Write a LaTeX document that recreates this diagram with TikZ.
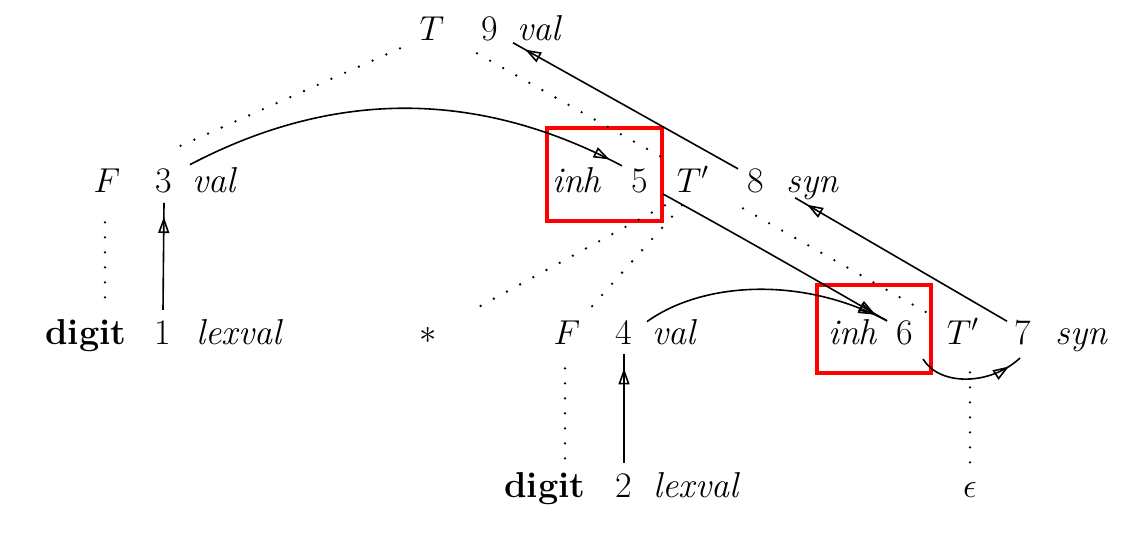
\documentclass[tikz,border=0pt]{standalone}
\usetikzlibrary{arrows.meta,calc,decorations.markings}
\begin{document}
\begin{tikzpicture}[x=0.5pt,y=-0.5pt,
  lab/.style={inner sep=5pt, anchor=base, font=\fontsize{18}{22}\selectfont},
  conn/.style={line width=0.8pt, postaction={decorate},
    decoration={markings, mark=at position -7pt with {\arrow{Triangle[open,length=8pt,width=5.5pt,line width=0.8pt]}}}},
  dotsd/.style={line width=1.3pt, line cap=round, dash pattern=on 0pt off 7.5pt},
  dotsv/.style={line width=1.3pt, line cap=round, dash pattern=on 0pt off 7.5pt},
  hl/.style={draw=red, line width=1.6pt}]
\useasboundingbox (0,0) rectangle (1127,559);
% row 1
\node[lab] (T9) at (432,40) {$T$};
\node[lab] (n9) at (490,40) {9};
\node[lab] (v9) at (540,40) {\textit{val}};
% row 2
\node[lab] (F3) at (107,192) {$F$};
\node[lab] (n3) at (164,192) {3};
\node[lab] (v3) at (215,192) {\textit{val}};
\node[lab] (i5) at (577,192) {\textit{inh}};
\node[lab] (n5) at (640,192) {5};
\node[lab] (Tp5) at (693,192) {$T'$};
\node[lab] (n8) at (756,192) {8};
\node[lab] (s8) at (813,192) {\textit{syn}};
% row 3
\node[lab] (dg1) at (86,344) {\textbf{digit}};
\node[lab] (n1) at (163,344) {1};
\node[lab] (lx1) at (240,344) {\textit{lexval}};
\node[inner sep=5pt, font=\fontsize{18}{22}\selectfont] (star) at (428,335) {$*$};
\node[lab] (F4) at (567,344) {$F$};
\node[lab] (n4) at (624,344) {4};
\node[lab] (v4) at (675,344) {\textit{val}};
\node[lab] (i6) at (853,344) {\textit{inh}};
\node[lab] (n6) at (905,344) {6};
\node[lab] (Tp6) at (963,344) {$T'$};
\node[lab] (n7) at (1023,344) {7};
\node[lab] (s7) at (1082,344) {\textit{syn}};
% row 4
\node[lab] (dg2) at (545,497) {\textbf{digit}};
\node[lab] (n2) at (624,497) {2};
\node[lab] (lx2) at (697,497) {\textit{lexval}};
\node[lab] (eps) at (970,497) {$\epsilon$};
% highlight boxes
\draw[hl] (547,128) rectangle (662,221);
\draw[hl] (817,285) rectangle (931,373);
% dotted parse-tree edges
\draw[dotsd] ($(T9.south)+(-32,-2)$) -- ($(n3.north)+(3,-6)$);
\draw[dotsd] ($(T9.south)+(45,3)$) -- ($(Tp5.north)+(-25,5)$);
\draw[dotsd] ($(Tp5.south)+(-28,3)$) -- ($(star.center)+(45,-25)$);
\draw[dotsd] ($(Tp5.south)+(-11,3)$) -- ($(F4.north)+(20,2)$);
\draw[dotsd] ($(Tp5.south)+(50,6)$) -- ($(Tp6.north)+(-36,5)$);
\draw[dotsv] ($(F3.south)+(-2,20)$) -- ($(F3.south |- dg1.north)+(-2,3)$);
\draw[dotsv] ($(F4.south)+(-2,14)$) -- ($(F4.south |- dg2.north)+(-2,6)$);
\draw[dotsv] ($(eps.north |- Tp6.south)+(0,18)$) -- ($(eps.north)+(0,-2)$);
% dependency arrows
\draw[conn] (n1.north) -- (n3.south);
\draw[conn] (n2.north) -- (n4.south);
\draw[conn] ($(v3.north)+(-25,8)$) .. controls +(143,-75) and +(-145,-77) .. ($(n5.north)+(-18,8)$);
\draw[conn] ($(v4.north)+(-28,13)$) .. controls +(54,-39) and +(-87,-46) .. ($(n6.north)+(-18,11)$);
\draw[conn] ($(n5.south)+(23,-9)$) .. controls +(80,44) and +(-80,-46) .. ($(n6.north)+(-18,11)$);
\draw[conn] ($(n6.south)+(18,4)$) .. controls +(16,27) and +(-30,28) .. ($(n7.south)+(-3,3)$);
\draw[conn] ($(n7.north)+(-16,12)$) -- ($(s8.south)+(-18,-12)$);
\draw[conn] ($(n8.north)+(-18,11)$) -- ($(v9.south)+(-27,-8)$);
\end{tikzpicture}
\end{document}
